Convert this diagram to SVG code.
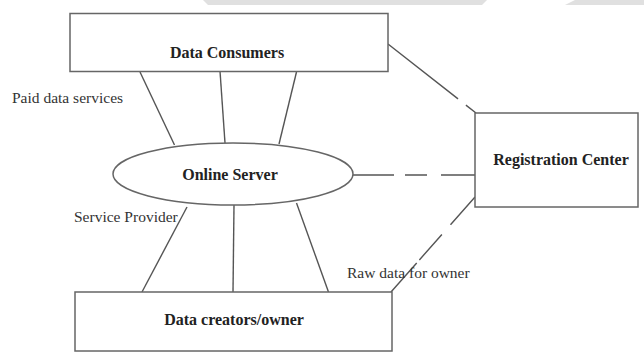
<svg xmlns="http://www.w3.org/2000/svg" width="644" height="352" viewBox="0 0 644 352">
<style>
.box{fill:#fff;stroke:#666;stroke-width:1.5}
.ln{stroke:#555;stroke-width:1.4;fill:none}
.bold{font-family:"Liberation Serif",serif;font-weight:bold;font-size:16px;fill:#222;text-anchor:middle}
.lbl{font-family:"Liberation Serif",serif;font-size:15.5px;fill:#333}
</style>
<rect width="644" height="352" fill="#fff"/>
<g id="watermark" fill="#e0e0e0">
<polygon points="203,0 487,0 482,5 208,5"/>
<polygon points="575,0 644,0 644,5 565,5"/>
</g>
<g id="connectors">
<line class="ln" x1="140" y1="72" x2="174.5" y2="145"/>
<line class="ln" x1="220" y1="71" x2="225" y2="143"/>
<line class="ln" x1="296.5" y1="72" x2="279" y2="144"/>
<line class="ln" x1="187" y1="207" x2="142" y2="292"/>
<line class="ln" x1="234" y1="205" x2="233" y2="292"/>
<line class="ln" x1="296.5" y1="203" x2="328.5" y2="292"/>
<line class="ln" x1="353" y1="175" x2="475" y2="175" stroke-dasharray="41 11 22 14 40"/>
<line class="ln" x1="388" y1="44" x2="476" y2="113" stroke-dasharray="89 10 20"/>
<line class="ln" x1="475" y1="197" x2="391" y2="292" stroke-dasharray="37 13 34 4 60"/>
</g>
<g id="data-consumers">
<rect class="box" x="70" y="13.5" width="318" height="58"/>
<text class="bold" x="227" y="58">Data Consumers</text>
</g>
<g id="online-server">
<ellipse class="box" cx="233" cy="174" rx="120" ry="31"/>
<text class="bold" x="230" y="180">Online Server</text>
</g>
<g id="registration-center">
<rect class="box" x="475" y="113" width="163" height="94"/>
<text class="bold" x="561" y="165">Registration Center</text>
</g>
<g id="data-creators">
<rect class="box" x="75" y="292" width="317" height="59"/>
<text class="bold" x="234" y="325">Data creators/owner</text>
</g>
<g id="labels">
<text class="lbl" x="12" y="103">Paid data services</text>
<text class="lbl" x="74" y="222">Service Provider</text>
<text class="lbl" x="347" y="278">Raw data for owner</text>
</g>
</svg>
